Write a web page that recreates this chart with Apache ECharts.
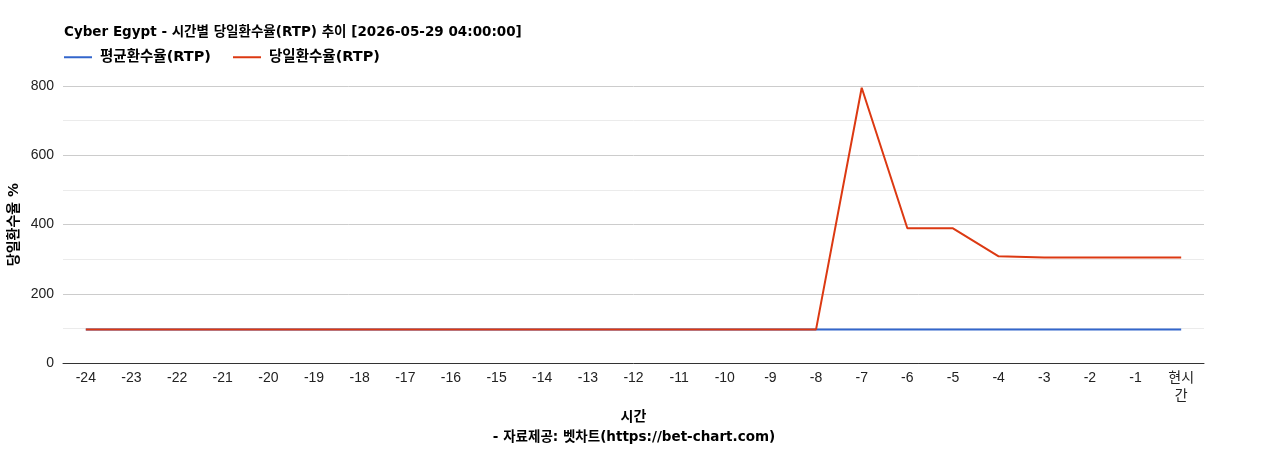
<!DOCTYPE html>
<html>
<head>
  <meta charset="utf-8">
  <title>Cyber Egypt RTP</title>
  <style>
    html, body { margin: 0; padding: 0; background: #fff; }
    #main { width: 1268px; height: 450px; }
  </style>
</head>
<body>
<div id="main"></div>
<script src="https://cdn.jsdelivr.net/npm/echarts@6/dist/echarts.min.js"></script>
<script>
var hours = ["-24","-23","-22","-21","-20","-19","-18","-17","-16","-15","-14","-13",
  "-12","-11","-10","-9","-8","-7","-6","-5","-4","-3","-2","-1","현시간"];
// 평균환수율 (blue)
var avgRtp = [97,97,97,97,97,97,97,97,97,97,97,97,97,97,97,97,97,97,97,97,97,97,97,97,97];
// 당일환수율 (red)
var dayRtp = [97,97,97,97,97,97,97,97,97,97,97,97,97,97,97,97,97,795,389,389,308,305,305,305,305];
var yTicks = [0, 200, 400, 600, 800];

var font = "'DejaVu Sans', 'Noto Sans CJK KR', sans-serif";
var tickFont = "'Liberation Sans', Arial, 'Noto Sans CJK KR', sans-serif";
var chart = echarts.init(document.getElementById("main"));

chart.setOption({
  animation: false,
  textStyle: { fontFamily: font },
  title: {
    text: "Cyber Egypt - 시간별 당일환수율(RTP) 추이 [2026-05-29 04:00:00]",
    left: 59,
    top: 21,
    textStyle: { fontSize: 13.5, fontWeight: "bold", color: "#000", fontFamily: font }
  },
  legend: {
    left: 59,
    top: 45,
    itemWidth: 28,
    itemHeight: 2,
    itemGap: 22,
    icon: "rect",
    textStyle: { fontSize: 14.5, fontWeight: "bold", color: "#000", fontFamily: font, padding: [0, 0, 0, 3] },
    data: ["평균환수율(RTP)", "당일환수율(RTP)"]
  },
  grid: { left: 63, right: 64, top: 86, bottom: 87, outerBoundsMode: "none" },
  xAxis: {
    type: "category",
    data: hours,
    boundaryGap: true,
    name: "시간",
    nameLocation: "middle",
    nameGap: 38,
    nameTextStyle: { fontSize: 14, fontWeight: "bold", color: "#000", fontFamily: font },
    axisLine: { lineStyle: { color: "#333", width: 1 } },
    axisTick: { show: false },
    axisLabel: {
      interval: 0,
      margin: 6,
      fontSize: 14,
      color: "#222",
      lineHeight: 18,
      fontFamily: tickFont,
      formatter: function (v) { return v === "현시간" ? "현시\n간" : v; }
    }
  },
  yAxis: {
    type: "value",
    min: yTicks[0],
    max: yTicks[yTicks.length - 1],
    interval: 200,
    name: "당일환수율 %",
    nameLocation: "middle",
    nameGap: 42,
    nameMoveOverlap: false,
    nameTextStyle: { fontSize: 14, fontWeight: "bold", color: "#000", fontFamily: font },
    axisLine: { show: false },
    axisTick: { show: false },
    axisLabel: { fontSize: 14, color: "#222", margin: 9, fontFamily: tickFont },
    splitLine: { lineStyle: { color: "#cccccc", width: 1 } },
    minorTick: { show: false, splitNumber: 2 },
    minorSplitLine: { show: true, lineStyle: { color: "#ebebeb", width: 1 } }
  },
  graphic: [{
    type: "text",
    left: "center",
    top: 431,
    style: {
      text: "- 자료제공: 벳차트(https://bet-chart.com)",
      font: "bold 13.5px " + font,
      fill: "#000"
    }
  }],
  series: [
    {
      name: "평균환수율(RTP)",
      type: "line",
      data: avgRtp,
      symbol: "none",
      color: "#3366cc",
      lineStyle: { width: 2, color: "#3366cc" }
    },
    {
      name: "당일환수율(RTP)",
      type: "line",
      data: dayRtp,
      symbol: "none",
      color: "#dc3912",
      lineStyle: { width: 2, color: "#dc3912" }
    }
  ]
});
</script>
</body>
</html>
